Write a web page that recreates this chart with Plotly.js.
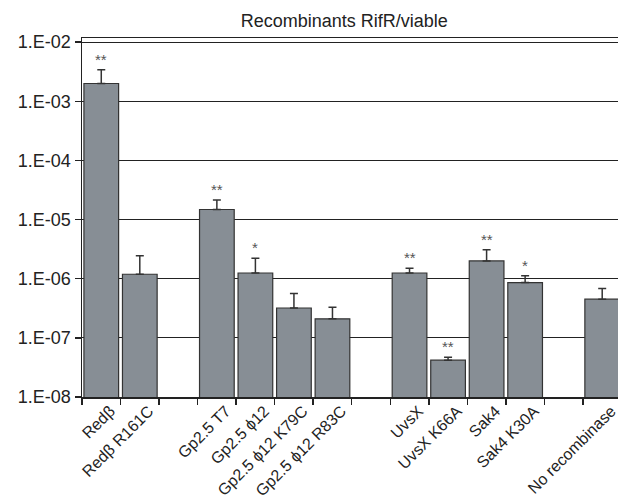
<!DOCTYPE html>
<html><head><meta charset="utf-8">
<script src="https://cdn.plot.ly/plotly-3.0.1.min.js"></script>
<style>html,body{margin:0;padding:0;background:#fff}</style>
</head><body><div id="chart" style="width:618px;height:503px"></div>
<script>
const categories = ["Redβ","Redβ R161C"," ","Gp2.5 T7","Gp2.5 ϕ12","Gp2.5 ϕ12 K79C","Gp2.5 ϕ12 R83C","  ","UvsX","UvsX K66A","Sak4","Sak4 K30A","   ","No recombinase"];
const values   = [2.0e-3, 1.19e-6, null, 1.48e-5, 1.25e-6, 3.2e-7, 2.1e-7, null, 1.25e-6, 4.2e-8, 2.0e-6, 8.6e-7, null, 4.5e-7];
const errHigh  = [3.4e-3, 2.45e-6, null, 2.15e-5, 2.22e-6, 5.6e-7, 3.3e-7, null, 1.5e-6, 4.7e-8, 3.1e-6, 1.12e-6, null, 6.8e-7];
const stars    = ["**", "", "", "**", "*", "", "", "", "**", "**", "**", "*", "", ""];
const yTickVals = [1e-8,1e-7,1e-6,1e-5,1e-4,1e-3,1e-2];
const yTickText = ["1.E-08","1.E-07","1.E-06","1.E-05","1.E-04","1.E-03","1.E-02"];

const plus = values.map((v,i)=> v==null ? null : errHigh[i]-v);
const font = "Liberation Sans, Arial, Helvetica, sans-serif";

const trace = {
  type: "bar", x: categories, y: values, width: 0.9,
  marker: {color: "#878e95", line: {color: "#333", width: 1.2}},
  error_y: {type: "data", symmetric: false, array: plus, arrayminus: values.map(()=>0),
            color: "#333", thickness: 1.5, width: 4},
  hoverinfo: "skip"
};

const annotations = [];
stars.forEach((s,i)=>{
  if (!s) return;
  annotations.push({x: categories[i], y: Math.log10(errHigh[i]), xref: "x", yref: "y",
    text: s, showarrow: false, yanchor: "bottom", yshift: 0,
    font: {family: font, size: 15, color: "#555"}});
});

const layout = {
  width: 618, height: 503,
  margin: {l: 82, r: 0, t: 38, b: 106},
  paper_bgcolor: "#fff", plot_bgcolor: "#fff",
  showlegend: false,
  title: {text: "Recombinants RifR/viable", x: 0.557, xanchor: "center", y: 0.959, yanchor: "middle",
          font: {family: font, size: 18, color: "#222"}},
  xaxis: {type: "category", categoryorder: "array", categoryarray: categories,
          range: [-0.5, 13.41], tickson: "boundaries", ticks: "outside", ticklen: 6,
          tickcolor: "#222", tickwidth: 1.5, showline: true, linecolor: "#222", linewidth: 1.5,
          mirror: true, showgrid: false, tickangle: -45, ticklabelshift: 9, ticklabelstandoff: -3,
          tickfont: {family: font, size: 16, color: "#222"}},
  yaxis: {type: "log", range: [-8, -1.93], tickvals: yTickVals, ticktext: yTickText,
          ticks: "outside", ticklen: 6, tickcolor: "#222", tickwidth: 1.5,
          showline: true, linecolor: "#222", linewidth: 1.5,
          showgrid: true, gridcolor: "#222", gridwidth: 1.2,
          tickfont: {family: font, size: 18, color: "#222"}},
  annotations: annotations
};

Plotly.newPlot("chart", [trace], layout, {displayModeBar: false, staticPlot: true});
</script></body></html>
